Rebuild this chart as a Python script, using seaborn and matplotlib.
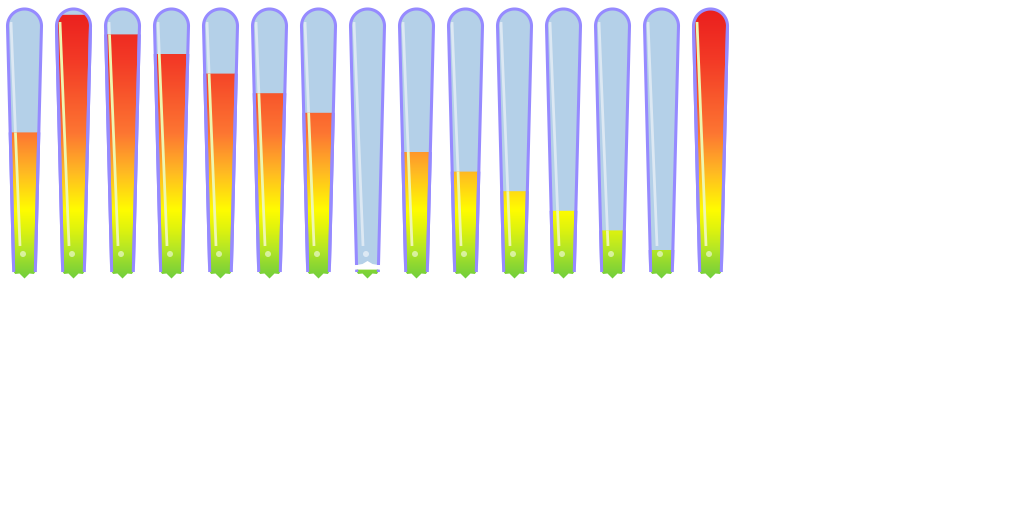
import numpy as np
import matplotlib
matplotlib.use("Agg")
import matplotlib.pyplot as plt
import seaborn as sns
from matplotlib.patches import Polygon, Ellipse
from matplotlib.lines import Line2D

# ---- data ----
categories = [str(i) for i in range(1, 16)]
values = [70, 130, 120, 110, 100, 90, 80, 0, 60, 50, 40, 30, 20, 10, 140]

# ---- style / layout constants ----
W, H = 1024, 512
BAND_PX = 49.0            # pixels per category
ZERO_PX = 269.6           # pixel row of value 0
UNIT_PX = 1.96            # pixels per value unit
PX_X = 1.0 / BAND_PX      # data-x per pixel
PX_Y = 1.0 / UNIT_PX      # data-y per pixel


def py(p):
    """pixel row -> data y"""
    return (ZERO_PX - p) / UNIT_PX


BLUE = "#b4d0e8"
PURPLE = "#968aff"
grad_stops = [
    (py(278), (115, 208, 60)),
    (py(266), (140, 215, 50)),
    (py(250), (180, 230, 38)),
    (py(231), (220, 242, 15)),
    (py(210), (255, 252, 0)),
    (py(172), (255, 185, 35)),
    (py(133), (253, 118, 50)),
    (py(60), (243, 58, 38)),
    (py(8), (234, 30, 30)),
]

sns.set_theme(style="white")
fig = plt.figure(figsize=(W / 100, H / 100), dpi=100)
fig.patch.set_facecolor("white")
ax = fig.add_axes([0, 0, 1, 1])
sns.barplot(x=categories, y=values, ax=ax, color=BLUE, order=categories)
ax.set_xlim(-0.5, -0.5 + W / BAND_PX)
ax.set_ylim(py(H), py(0))
ax.axis("off")

V_BOT = py(272)      # tube bottom
V_BG_BOT = py(265)   # bottom of empty tube
V_S = py(26)         # start of rounded top
V_ARC_TOP = py(9)
HW_B = 10.8 * PX_X
HW_T = 17.0 * PX_X
RY = V_ARC_TOP - V_S
LW = 2.2


def hw(v):
    t = (v - V_BOT) / (V_S - V_BOT)
    return HW_B + (HW_T - HW_B) * t


def arc_lr(cx):
    th = np.linspace(np.pi, 0, 40)
    return [(cx + HW_T * np.cos(t), V_S + RY * np.sin(t)) for t in th]


def clip_below(pts, v):
    out = []
    n = len(pts)
    for i in range(n):
        cur, prev = pts[i], pts[i - 1]
        cin, pin = cur[1] <= v, prev[1] <= v
        if cin != pin:
            t = (v - prev[1]) / (cur[1] - prev[1])
            out.append((prev[0] + t * (cur[0] - prev[0]), v))
        if cin:
            out.append(cur)
    return out


def grad_image(y0, y1, n=300):
    ys = np.linspace(y0, y1, n)
    sv = [s[0] for s in grad_stops]
    cols = np.array([s[1] for s in grad_stops], float) / 255
    img = np.stack([np.interp(ys, sv, cols[:, k]) for k in range(3)], axis=-1)
    return img[:, None, :]


bars = list(ax.patches)
for bar in bars:
    bar.set_visible(False)
    cx = bar.get_x() + bar.get_width() / 2
    v = bar.get_height()

    # empty tube (background)
    outline = [(cx - hw(V_BG_BOT), V_BG_BOT)] + arc_lr(cx) + [(cx + hw(V_BG_BOT), V_BG_BOT)]
    bg = outline + [(cx + 5 * PX_X, py(264)), (cx, py(261)), (cx - 5 * PX_X, py(264))]
    bg_patch = Polygon(bg, closed=True, facecolor=BLUE, edgecolor="none", zorder=2)
    ax.add_patch(bg_patch)

    # fill shape (tube + arrow) clipped to value
    full = [(cx - HW_B, V_BOT)] + arc_lr(cx) + \
           [(cx + HW_B, V_BOT),
            (cx + HW_B - 1.5 * PX_X, py(274)), (cx + 5 * PX_X, py(273.5)),
            (cx, py(278.5)),
            (cx - 5 * PX_X, py(273.5)), (cx - HW_B + 1.5 * PX_X, py(274))]
    fill_pts = clip_below(full, v)
    fill_patch = Polygon(fill_pts, closed=True, facecolor="none", edgecolor="none",
                         transform=ax.transData)
    y0, y1 = py(280), py(6)
    im = ax.imshow(grad_image(y0, y1), extent=(cx - HW_T, cx + HW_T, y0, y1),
                   origin="lower", aspect="auto", interpolation="bilinear", zorder=3)
    im.set_clip_path(fill_patch)

    # highlight line
    hx = [cx - 13.5 * PX_X, cx - 4.5 * PX_X]
    hy = [py(22), py(246)]
    l1 = Line2D(hx, hy, color="#dce8f3", lw=2.0, solid_capstyle="butt", zorder=2.5)
    ax.add_line(l1)
    l1.set_clip_path(bg_patch)
    l2 = Line2D(hx, hy, color="#eef6b0", lw=2.0, solid_capstyle="butt", zorder=3.5)
    ax.add_line(l2)
    l2.set_clip_path(fill_patch)

    # border of empty tube
    ox, oy = zip(*outline)
    ax.plot(ox, oy, color=PURPLE, lw=LW, solid_joinstyle="round",
            solid_capstyle="butt", zorder=5)
    # side borders of filled part
    vt = min(max(v, V_BOT), V_S)
    ax.plot([cx - HW_B, cx - hw(vt)], [V_BOT, vt], color=PURPLE, lw=LW, zorder=5,
            solid_capstyle="butt")
    ax.plot([cx + HW_B, cx + hw(vt)], [V_BOT, vt], color=PURPLE, lw=LW, zorder=5,
            solid_capstyle="butt")

    # small dot
    ax.add_patch(Ellipse((cx - 1.5 * PX_X, py(254)), 6 * PX_X, 6 * PX_Y,
                         facecolor="white", alpha=0.55, edgecolor="none", zorder=6))

fig.savefig("out.png", dpi=100, facecolor="white")
